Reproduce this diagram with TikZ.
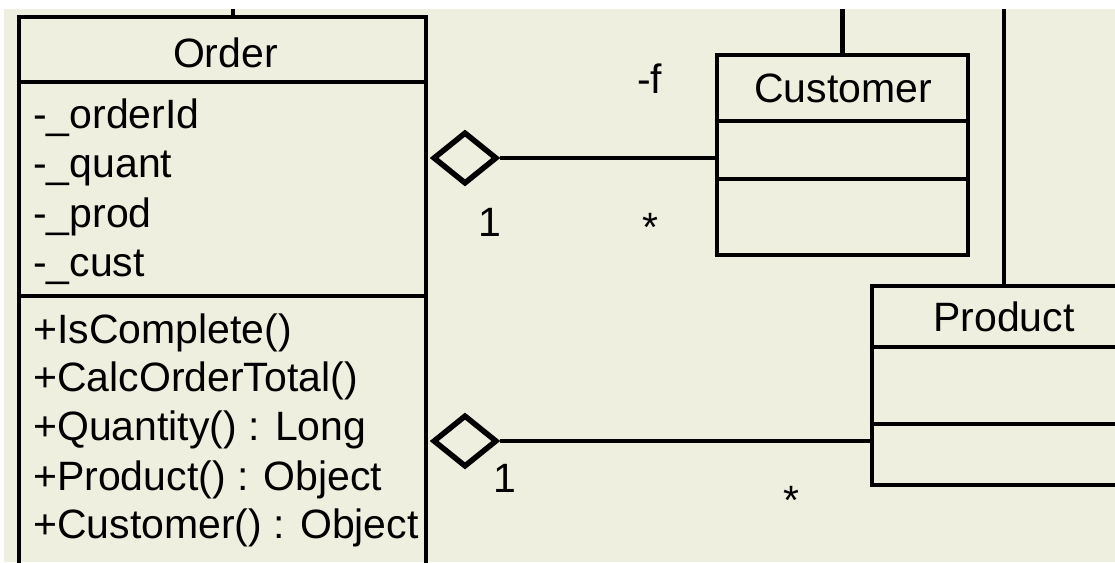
\documentclass[tikz,border=0pt]{standalone}
\usepackage{fontspec}
\setmainfont{Liberation Sans}
\usetikzlibrary{shapes.geometric}
\definecolor{paper}{RGB}{239,239,224}

\begin{document}
\begin{tikzpicture}[x=1pt, y=-1pt, cls/.style={draw, rectangle, line width=4.5pt, inner sep=0pt}, agg/.style={draw, diamond, line width=5.5pt, inner sep=0pt, minimum width=64pt, minimum height=52pt}, txt/.style={font=\fontsize{41}{49}\selectfont, inner sep=0pt}, entry/.style={txt, anchor=base west}, n/.style={line width=4.5pt}]
                \useasboundingbox (0,0) rectangle (1115,562);
                \fill[white] (0,0) rectangle (1115,562);
                \fill[paper] (4,9) rectangle (1115,562);
                \clip (4,9) rectangle (1115,562);
                % nodes
                \node[cls, minimum width=407pt, minimum height=583pt] (order) at (222.5,308.5) {};
                \node[cls, minimum width=251pt, minimum height=200pt] (cust) at (842.5,155) {};
                \node[cls, minimum width=264pt, minimum height=199pt] (prod) at (1004,385.5) {};
                \node[agg] (aggc) at (465,158) {};
                \node[agg] (aggp) at (465,441) {};
                \coordinate (ordertop) at (233,9);
                \coordinate (custtop) at (842.5,9);
                \coordinate (prodtop) at (1004,9);
                % compartments
                \draw[n] ([yshift=-67pt]order.north west) -- ([yshift=-67pt]order.north east);
                \draw[n] ([yshift=-281pt]order.north west) -- ([yshift=-281pt]order.north east);
                \draw[n] ([yshift=-68pt]cust.north west) -- ([yshift=-68pt]cust.north east);
                \draw[n] ([yshift=-126pt]cust.north west) -- ([yshift=-126pt]cust.north east);
                \draw[n] ([yshift=-63pt]prod.north west) -- ([yshift=-63pt]prod.north east);
                \draw[n] ([yshift=-140pt]prod.north west) -- ([yshift=-140pt]prod.north east);
                % names and members
                \node[txt, anchor=base] (ordername) at (225.5,67) {Order};
                \node[txt, anchor=base] (custname) at (843,102) {Customer};
                \node[txt, anchor=base] (prodname) at (1004,331) {Product};
                \node[entry] (attr1) at (33,128) {-\_orderId};
                \node[entry] (attr2) at (33,177) {-\_quant};
                \node[entry] (attr3) at (33,227) {-\_prod};
                \node[entry] (attr4) at (33,276) {-\_cust};
                \node[entry] (op1) at (33,343) {+IsComplete()};
                \node[entry] (op2) at (33,391) {+CalcOrderTotal()};
                \node[entry] (op3) at (33,440) {+Quantity() : Long};
                \node[entry] (op4) at (33,490) {+Product() : Object};
                \node[entry] (op5) at (33,538) {+Customer() : Object};
                % multiplicities
                \node[entry] (rolec) at (637,93) {-f};
                \node[txt, anchor=base] (onec) at (490,236) {1};
                \node[txt, anchor=base] (manyc) at (650,241) {*};
                \node[txt, anchor=base] (onep) at (505,492) {1};
                \node[txt, anchor=base] (manyp) at (791,514) {*};
                % edges
                \draw[n] (aggc.east) -- (aggc.east -| cust.west);
                \draw[n] (aggp.east) -- (aggp.east -| prod.west);
                \draw[n] (ordertop) -- (ordertop |- order.north);
                \draw[n] (custtop) -- (cust.north);
                \draw[n] (prodtop) -- (prod.north);
            \end{tikzpicture}
\end{document}
